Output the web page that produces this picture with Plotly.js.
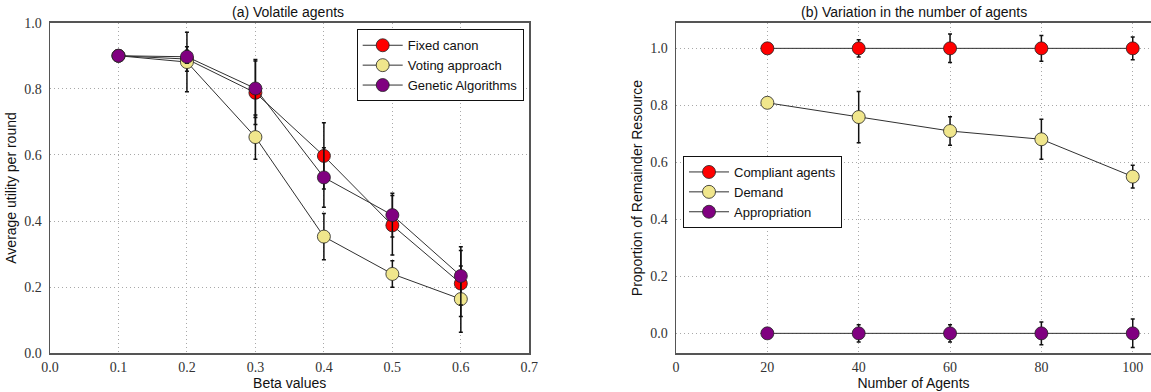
<!DOCTYPE html>
<html>
<head>
<meta charset="utf-8">
<script src="https://cdn.plot.ly/plotly-3.0.1.min.js"></script>
<style>html,body{margin:0;padding:0;background:#fff;}#chart{width:1151px;height:392px;}</style>
</head>
<body>
<div id="chart"></div>
<script>
// ---- Panel (a) data ----
const betaValues = [0.1, 0.2, 0.3, 0.4, 0.5, 0.6];
const fixedCanon = [0.900, 0.890, 0.788, 0.597, 0.387, 0.211];
const fixedCanonErr = [0.010, 0.037, 0.096, 0.100, 0.090, 0.100];
const votingApproach = [0.900, 0.881, 0.654, 0.353, 0.240, 0.164];
const votingApproachErr = [0.010, 0.090, 0.067, 0.070, 0.040, 0.100];
const geneticAlgorithms = [0.900, 0.897, 0.801, 0.532, 0.418, 0.234];
const geneticAlgorithmsErr = [0.010, 0.020, 0.088, 0.090, 0.066, 0.088];

// ---- Panel (b) data ----
const numAgents = [20, 40, 60, 80, 100];
const compliant = [1.0, 1.0, 1.0, 1.0, 1.0];
const compliantErr = [0.0, 0.03, 0.05, 0.045, 0.04];
const demand = [0.809, 0.759, 0.710, 0.681, 0.550];
const demandErr = [0.005, 0.09, 0.05, 0.07, 0.04];
const appropriation = [0.0, 0.0, 0.0, 0.0, 0.0];
const appropriationErr = [0.0, 0.03, 0.03, 0.04, 0.05];

const leftTicks = [0.0, 0.1, 0.2, 0.3, 0.4, 0.5, 0.6, 0.7];
const unitTicks = [0.0, 0.2, 0.4, 0.6, 0.8, 1.0];
const agentTicks = [0, 20, 40, 60, 80, 100];

const RED = '#ff0000', KHAKI = '#f0e68c', PURPLE = '#800080';

function series(x, y, err, name, color, xa, ya, leg) {
  return {
    x: x, y: y, name: name, type: 'scatter', mode: 'lines+markers',
    xaxis: xa, yaxis: ya, legend: leg,
    line: {color: '#303030', width: 1},
    marker: {color: color, size: 13, line: {color: '#222', width: 0.8}},
    error_y: {type: 'data', array: err, visible: true, color: '#111', thickness: 1.5, width: 2}
  };
}

const data = [
  series(betaValues, fixedCanon, fixedCanonErr, 'Fixed canon', RED, 'x', 'y', 'legend'),
  series(betaValues, votingApproach, votingApproachErr, 'Voting approach', KHAKI, 'x', 'y', 'legend'),
  series(betaValues, geneticAlgorithms, geneticAlgorithmsErr, 'Genetic Algorithms', PURPLE, 'x', 'y', 'legend'),
  series(numAgents, compliant, compliantErr, 'Compliant agents', RED, 'x2', 'y2', 'legend2'),
  series(numAgents, demand, demandErr, 'Demand', KHAKI, 'x2', 'y2', 'legend2'),
  series(numAgents, appropriation, appropriationErr, 'Appropriation', PURPLE, 'x2', 'y2', 'legend2')
];

const W = 1151, H = 392;
const titleFont = {family: 'Liberation Sans', size: 14, color: '#111'};
const yTop = 1 - 22.7 / H, yBot = 1 - 353.3 / H;

function axisBase() {
  return {
    showgrid: true, gridcolor: '#a8a8a8', griddash: '1px,3px', gridwidth: 1,
    zeroline: false, showline: true, linecolor: '#555', linewidth: 1.5, mirror: true,
    ticks: '', automargin: false,
    tickfont: {family: 'Liberation Serif', size: 14, color: '#333'}
  };
}

const layout = {
  width: W, height: H,
  margin: {l: 0, r: 0, t: 0, b: 0},
  paper_bgcolor: '#fff', plot_bgcolor: '#fff',
  showlegend: true,
  xaxis: Object.assign(axisBase(), {
    domain: [50 / W, 529.3 / W], range: [0, 0.7], tickvals: leftTicks, tickformat: '.1f',
    ticklabelstandoff: 0, anchor: 'y',
    title: {text: 'Beta values', font: titleFont, standoff: 2}
  }),
  yaxis: Object.assign(axisBase(), {
    domain: [yBot, yTop], range: [0, 1.0], tickvals: unitTicks, tickformat: '.1f',
    ticklabelstandoff: 4, anchor: 'x',
    title: {text: 'Average utility per round', font: titleFont, standoff: 4}
  }),
  xaxis2: Object.assign(axisBase(), {
    domain: [676 / W, 1], range: [0, 104], tickvals: agentTicks,
    ticklabelstandoff: 0, anchor: 'y2',
    title: {text: 'Number of Agents', font: titleFont, standoff: 2}
  }),
  yaxis2: Object.assign(axisBase(), {
    domain: [yBot, yTop], range: [-0.07, 1.09], tickvals: unitTicks, tickformat: '.1f',
    ticklabelstandoff: 4, anchor: 'x2',
    title: {text: 'Proportion of Remainder Resource', font: titleFont, standoff: 4}
  }),
  legend: {
    x: 356.7 / W, y: 1 - 29.3 / H, xanchor: 'left', yanchor: 'top',
    bgcolor: '#fff', bordercolor: '#111', borderwidth: 1,
    font: {family: 'Liberation Sans', size: 13, color: '#111'},
    itemwidth: 40, tracegroupgap: 0
  },
  legend2: {
    x: 683 / W, y: 1 - 156 / H, xanchor: 'left', yanchor: 'top',
    bgcolor: '#fff', bordercolor: '#111', borderwidth: 1,
    font: {family: 'Liberation Sans', size: 13, color: '#111'},
    itemwidth: 40, tracegroupgap: 0
  },
  annotations: [
    {text: '(a) Volatile agents', xref: 'paper', yref: 'paper', x: 288 / W, y: 1 - 12.5 / H,
     xanchor: 'center', yanchor: 'middle', showarrow: false, font: titleFont},
    {text: '(b) Variation in the number of agents', xref: 'paper', yref: 'paper', x: 914 / W, y: 1 - 12.5 / H,
     xanchor: 'center', yanchor: 'middle', showarrow: false, font: titleFont}
  ]
};

Plotly.newPlot('chart', data, layout, {displayModeBar: false, staticPlot: true});
</script>
</body>
</html>
